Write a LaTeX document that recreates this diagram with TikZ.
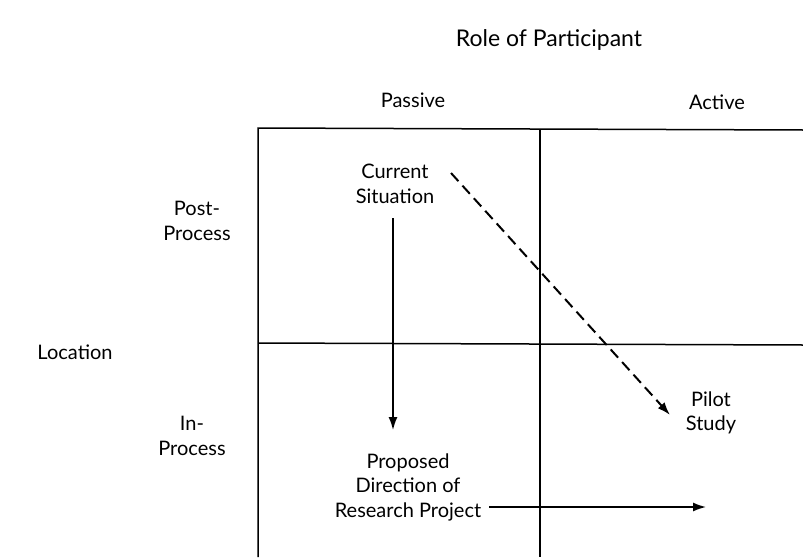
\documentclass[tikz,border=0pt]{standalone}
\usepackage{fontspec}
\setmainfont{Lato}
\usetikzlibrary{arrows.meta}
\begin{document}
\begin{tikzpicture}[
        x=1pt, y=-1pt,
        label/.style={align=center, inner sep=0pt, font=\fontsize{20}{24.5}\selectfont},
        grid/.style={line width=1.5pt},
        arr/.style={-{Latex[length=13pt,width=9pt]}, line width=1.5pt}
        ]
      \useasboundingbox (0,0) rectangle (803,557);
      % the 2x2 grid
      \draw[grid] (258,557) -- (258,128) -- (803,130);
      \draw[grid] (540,130) -- (540,557);
      \draw[grid] (258,343) -- (803,345);

      \node[label, font=\fontsize{23}{26}\selectfont] (role) at (549,40) {Role of Participant};
      \node[label] (passive) at (413,100) {Passive};
      \node[label] (active) at (717,102) {Active};
      \node[label] (post) at (197,221) {Post-\\Process};
      \node[label] (loc) at (75,352) {Location};
      \node[label] (inproc) at (192,436) {In-\\Process};

      \node[label] (cur) at (395,184) {Current\\Situation};
      \node[label] (prop) at (408,487) {Proposed\\Direction of\\Research Project};
      \node[label] (pilot) at (711,413) {Pilot\\Study};
      \coordinate (goal) at (706,507);

      \draw[arr] ([xshift=-2pt,yshift=-34pt]cur.center) -- ++(0,212);
      \draw[arr, shorten <=8pt] (prop.east |- goal) -- (goal);
      \draw[arr, line width=2pt, dash pattern=on 11pt off 6pt] ([xshift=56pt,yshift=11pt]cur.center) -- ([xshift=-41pt,yshift=-2pt]pilot.center);

    \end{tikzpicture}
\end{document}
